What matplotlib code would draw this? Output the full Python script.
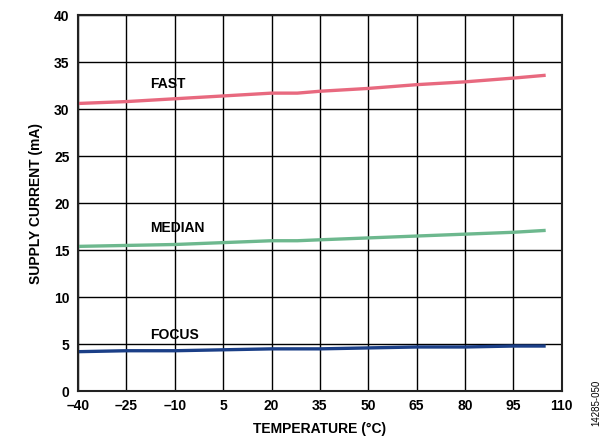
import matplotlib
matplotlib.use("Agg")
import matplotlib.pyplot as plt

plt.rcParams['font.family'] = ['Liberation Sans', 'DejaVu Sans']

temp = [-40, -25, -10, 5, 20, 28, 35, 50, 65, 80, 95, 105]
fast = [30.6, 30.8, 31.1, 31.4, 31.7, 31.7, 31.9, 32.2, 32.6, 32.9, 33.3, 33.6]
median = [15.4, 15.5, 15.6, 15.8, 16.0, 16.0, 16.1, 16.3, 16.5, 16.7, 16.9, 17.1]
focus = [4.2, 4.3, 4.3, 4.4, 4.5, 4.5, 4.5, 4.6, 4.7, 4.7, 4.8, 4.8]

xticks = [-40, -25, -10, 5, 20, 35, 50, 65, 80, 95, 110]
yticks = [0, 5, 10, 15, 20, 25, 30, 35, 40]

fig = plt.figure(figsize=(6.14, 4.44), dpi=100)
ax = fig.add_axes([0.127, 0.119, 0.788, 0.847])

ax.plot(temp, fast, color='#E8697F', lw=2.4, solid_capstyle='butt')
ax.plot(temp, median, color='#6DB88E', lw=2.4, solid_capstyle='butt')
ax.plot(temp, focus, color='#1B3F87', lw=2.4, solid_capstyle='butt')

ax.text(-17.5, 32.2, 'FAST', fontsize=10, fontweight='bold')
ax.text(-17.5, 16.9, 'MEDIAN', fontsize=10, fontweight='bold')
ax.text(-17.5, 5.6, 'FOCUS', fontsize=10, fontweight='bold')

ax.set_xlim(-40, 110)
ax.set_ylim(0, 40)
ax.set_xticks(xticks)
ax.set_xticklabels([str(t).replace('-', '\u2013') for t in xticks], fontweight='bold', fontsize=10)
ax.set_yticks(yticks)
ax.set_yticklabels([str(t) for t in yticks], fontweight='bold', fontsize=10)
ax.tick_params(length=0, pad=6)
ax.grid(True, color='black', lw=1.0)
for s in ax.spines.values():
    s.set_linewidth(1.5)
    s.set_color('#222222')

ax.set_xlabel('TEMPERATURE (°C)', fontsize=10, fontweight='bold', labelpad=6)
ax.set_ylabel('SUPPLY CURRENT (mA)', fontsize=10, fontweight='bold', labelpad=8)

fig.text(0.972, 0.04, '14285-050', rotation=90, fontsize=7, ha='center', va='bottom')

fig.savefig('out.png', dpi=100)
